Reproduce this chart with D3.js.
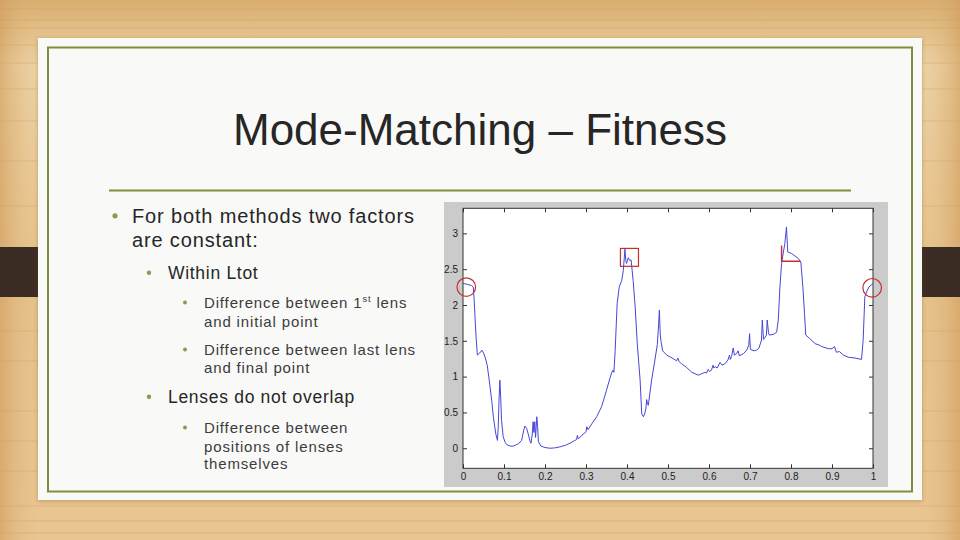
<!DOCTYPE html>
<html><head><meta charset="utf-8">
<script src="https://cdn.jsdelivr.net/npm/d3@7"></script>
<style>html,body{margin:0;padding:0;overflow:hidden;background:#e3bd86}</style>
</head><body>
<svg id="c" width="960" height="540"></svg>
<script>
// ---------- data ----------
const titleText = "Mode-Matching \u2013 Fitness";
const xValues = [0.000,0.010,0.021,0.025,0.027,0.030,0.032,0.035,0.041,0.046,0.050,0.054,0.059,0.064,0.070,0.074,0.080,0.084,0.086,0.088,0.090,0.092,0.094,0.098,0.103,0.107,0.115,0.123,0.130,0.135,0.143,0.148,0.151,0.155,0.159,0.164,0.166,0.169,0.171,0.173,0.175,0.177,0.180,0.182,0.184,0.190,0.200,0.212,0.224,0.237,0.249,0.261,0.273,0.277,0.279,0.281,0.290,0.300,0.302,0.305,0.314,0.326,0.338,0.350,0.359,0.363,0.366,0.368,0.371,0.374,0.376,0.381,0.387,0.391,0.395,0.397,0.399,0.403,0.407,0.410,0.415,0.420,0.425,0.432,0.436,0.440,0.443,0.446,0.448,0.450,0.452,0.460,0.468,0.474,0.477,0.479,0.481,0.483,0.487,0.497,0.513,0.521,0.524,0.527,0.533,0.545,0.558,0.566,0.574,0.582,0.590,0.594,0.598,0.601,0.606,0.610,0.612,0.615,0.620,0.627,0.632,0.639,0.646,0.650,0.652,0.655,0.659,0.662,0.667,0.671,0.674,0.684,0.692,0.697,0.699,0.701,0.710,0.716,0.722,0.728,0.730,0.733,0.737,0.740,0.742,0.745,0.747,0.757,0.765,0.769,0.773,0.777,0.781,0.785,0.789,0.792,0.801,0.818,0.824,0.829,0.833,0.836,0.846,0.859,0.869,0.875,0.891,0.900,0.906,0.911,0.918,0.928,0.940,0.956,0.972,0.976,0.980,0.984,0.990,1.000];
const yValues = [2.30,2.29,2.27,2.25,2.09,1.75,1.55,1.30,1.33,1.37,1.33,1.27,1.16,0.95,0.67,0.44,0.20,0.11,0.30,0.70,0.95,0.70,0.39,0.16,0.08,0.05,0.03,0.03,0.05,0.06,0.11,0.25,0.31,0.28,0.20,0.09,0.07,0.20,0.37,0.22,0.37,0.15,0.44,0.30,0.09,0.03,0.01,0.00,0.005,0.02,0.04,0.07,0.11,0.12,0.18,0.13,0.18,0.23,0.30,0.26,0.34,0.44,0.58,0.81,0.99,1.06,1.09,1.06,1.35,1.75,2.02,2.25,2.34,2.48,2.78,2.62,2.58,2.66,2.62,2.63,2.34,1.97,1.46,0.95,0.48,0.44,0.48,0.55,0.68,0.62,0.60,0.95,1.23,1.45,1.72,1.93,1.60,1.49,1.36,1.30,1.25,1.22,1.26,1.21,1.18,1.13,1.06,1.04,1.02,1.04,1.06,1.05,1.10,1.07,1.09,1.16,1.12,1.14,1.12,1.20,1.16,1.18,1.23,1.30,1.24,1.28,1.40,1.30,1.32,1.36,1.29,1.32,1.37,1.44,1.60,1.38,1.36,1.37,1.40,1.51,1.79,1.52,1.55,1.58,1.79,1.62,1.58,1.59,1.62,1.79,2.25,2.58,2.72,2.86,3.09,2.74,2.72,2.65,2.60,2.25,1.88,1.58,1.53,1.46,1.44,1.42,1.39,1.39,1.42,1.34,1.35,1.30,1.27,1.26,1.24,1.51,2.11,2.18,2.25,2.30];
const xTicks = [0,0.1,0.2,0.3,0.4,0.5,0.6,0.7,0.8,0.9,1];
const xTickLabels = ["0","0.1","0.2","0.3","0.4","0.5","0.6","0.7","0.8","0.9","1"];
const yTicks = [0,0.5,1,1.5,2,2.5,3];
const yTickLabels = ["0","0.5","1","1.5","2","2.5","3"];
// red annotation marks (data units)
const circleMarks = [{x:0.008,y:2.25},{x:0.998,y:2.24}];
const boxMarks = [{x0:0.384,x1:0.428,y0:2.54,y1:2.79}];
const cornerMarks = [{x:0.777,yTop:2.83,yBot:2.61,x1:0.822}];
// bullet text
const bullets = [
  {lvl:1, lines:["For both methods two factors","are constant:"]},
  {lvl:2, lines:["Within Ltot"]},
  {lvl:3, lines:["Difference between 1|st| lens","and initial point"]},
  {lvl:3, lines:["Difference between last lens","and final point"]},
  {lvl:2, lines:["Lenses do not overlap"]},
  {lvl:3, lines:["Difference between","positions of lenses","themselves"]}
];
const bulletBaselines = [[223,247],[279],[308,327],[355,373],[403],[433,452,469]];

// ---------- drawing ----------
const svg = d3.select("#c");
const defs = svg.append("defs");
const g1 = defs.append("linearGradient").attr("id","wood").attr("x1",0).attr("y1",0).attr("x2",0).attr("y2",1);
g1.append("stop").attr("offset","0%").attr("stop-color","#d9ad6e");
g1.append("stop").attr("offset","12%").attr("stop-color","#ecd3a6");
g1.append("stop").attr("offset","50%").attr("stop-color","#e6c28c");
g1.append("stop").attr("offset","100%").attr("stop-color","#e8c592");
svg.append("rect").attr("width",960).attr("height",540).attr("fill","url(#wood)");
const g2 = defs.append("linearGradient").attr("id","woodL").attr("x1",0).attr("y1",0).attr("x2",1).attr("y2",0);
g2.append("stop").attr("offset","0%").attr("stop-color","#cf9a58").attr("stop-opacity",0.6);
g2.append("stop").attr("offset","100%").attr("stop-color","#e6c28c").attr("stop-opacity",0);
svg.append("rect").attr("x",0).attr("y",0).attr("width",40).attr("height",540).attr("fill","url(#woodL)");
svg.append("rect").attr("x",920).attr("y",0).attr("width",40).attr("height",540).attr("fill","url(#woodL)").attr("transform","translate(1880,0) scale(-1,1)");
// grain stripes
const stripeYs = [8,19,27,44,62,88,120,160,205,330,360,410,440,470,505,520,532];
svg.append("g").selectAll("rect").data(stripeYs).join("rect")
  .attr("x",0).attr("y",d=>d).attr("width",960).attr("height",2)
  .attr("fill","#c99a5c").attr("opacity",0.18);

// tabs
svg.append("rect").attr("x",0).attr("y",247).attr("width",60).attr("height",50).attr("fill","#3a2c22");
svg.append("rect").attr("x",900).attr("y",247).attr("width",60).attr("height",50).attr("fill","#3a2c22");

// card
const sh = defs.append("filter").attr("id","sh").attr("x","-5%").attr("y","-5%").attr("width","110%").attr("height","110%");
sh.append("feDropShadow").attr("dx",0).attr("dy",1).attr("stdDeviation",2).attr("flood-color","#6b4a20").attr("flood-opacity",0.35);
svg.append("rect").attr("x",38).attr("y",38).attr("width",884).attr("height",462).attr("fill","#f9f9f8").attr("filter","url(#sh)");
svg.append("rect").attr("x",48).attr("y",47.5).attr("width",864).attr("height",444).attr("fill","none").attr("stroke","#7d8f3e").attr("stroke-width",2);

// title
svg.append("text").attr("x",480).attr("y",145).attr("text-anchor","middle")
  .attr("font-family","Liberation Sans, Arial, sans-serif").attr("font-size",44).attr("fill","#262626")
  .text(titleText);
svg.append("line").attr("x1",109).attr("x2",851).attr("y1",190.5).attr("y2",190.5).attr("stroke","#7d8f3e").attr("stroke-width",2);

// bullets
const lvlStyle = {
  1:{bx:115,tx:132,fs:20,ls:0.85,br:2.6,col:"#262626"},
  2:{bx:149,tx:168,fs:17.5,ls:0.7,br:2.2,col:"#262626"},
  3:{bx:185,tx:204,fs:15,ls:0.85,br:2.0,col:"#3c3c3c"}
};
const tg = svg.append("g").attr("font-family","Liberation Sans, Arial, sans-serif");
bullets.forEach((b,i)=>{
  const s = lvlStyle[b.lvl];
  const bl = bulletBaselines[i];
  tg.append("circle").attr("cx",s.bx).attr("cy",bl[0]-s.fs*0.36).attr("r",s.br).attr("fill","#8a9b4c");
  b.lines.forEach((ln,j)=>{
    const t = tg.append("text").attr("x",s.tx).attr("y",bl[j]).attr("font-size",s.fs).attr("fill",s.col).attr("letter-spacing",s.ls);
    const parts = ln.split("|");
    parts.forEach((p,k)=>{
      if(k===1){ t.append("tspan").attr("font-size",s.fs*0.62).attr("dy",-s.fs*0.38).text(p); }
      else if(k===2){ t.append("tspan").attr("dy",s.fs*0.38).text(p); }
      else t.append("tspan").text(p);
    });
  });
});

// chart panel
svg.append("rect").attr("x",444).attr("y",202).attr("width",444).attr("height",285).attr("fill","#cbcbcb");
const L=463,R=873,T=208.3,B=468.3;
const x = d3.scaleLinear().domain([0,1]).range([L,R]);
const y = d3.scaleLinear().domain([-0.28,3.35]).range([B,T]);
svg.append("rect").attr("x",L).attr("y",T).attr("width",R-L).attr("height",B-T).attr("fill","#ffffff");

const axFont = "Liberation Sans, Arial, sans-serif";
function styleAxis(g){
  g.select(".domain").remove();
  g.selectAll("line").attr("stroke","#333").attr("stroke-width",1);
  g.selectAll("text").attr("font-family",axFont).attr("font-size",10).attr("fill","#222");
}
svg.append("g").attr("transform",`translate(0,${B})`)
  .call(d3.axisBottom(x).tickValues(xTicks).tickFormat((d,i)=>xTickLabels[i]).tickSizeInner(-4).tickSizeOuter(0).tickPadding(5)).call(styleAxis);
svg.append("g").attr("transform",`translate(0,${T})`)
  .call(d3.axisTop(x).tickValues(xTicks).tickFormat("").tickSizeInner(-4).tickSizeOuter(0)).call(styleAxis);
svg.append("g").attr("transform",`translate(${L},0)`)
  .call(d3.axisLeft(y).tickValues(yTicks).tickFormat((d,i)=>yTickLabels[i]).tickSizeInner(-4).tickSizeOuter(0).tickPadding(5)).call(styleAxis);
svg.append("g").attr("transform",`translate(${R},0)`)
  .call(d3.axisRight(y).tickValues(yTicks).tickFormat("").tickSizeInner(-4).tickSizeOuter(0)).call(styleAxis);
svg.append("rect").attr("x",L).attr("y",T).attr("width",R-L).attr("height",B-T).attr("fill","none").attr("stroke","#333").attr("stroke-width",1);

// curve
const pts = xValues.map((v,i)=>[v,yValues[i]]);
svg.append("path").datum(pts)
  .attr("d",d3.line().x(d=>x(d[0])).y(d=>y(d[1])))
  .attr("fill","none").attr("stroke","#4646d8").attr("stroke-width",1).attr("stroke-linejoin","round");

// red annotations
const red = "#c4302e";
svg.append("g").selectAll("circle").data(circleMarks).join("circle")
  .attr("cx",d=>x(d.x)).attr("cy",d=>y(d.y)).attr("r",9.3).attr("fill","none").attr("stroke",red).attr("stroke-width",1.2);
svg.append("g").selectAll("rect").data(boxMarks).join("rect")
  .attr("x",d=>x(d.x0)).attr("y",d=>y(d.y1)).attr("width",d=>x(d.x1)-x(d.x0)).attr("height",d=>y(d.y0)-y(d.y1))
  .attr("fill","none").attr("stroke",red).attr("stroke-width",1.2);
svg.append("g").selectAll("path").data(cornerMarks).join("path")
  .attr("d",d=>`M${x(d.x)},${y(d.yTop)}V${y(d.yBot)}H${x(d.x1)}`)
  .attr("fill","none").attr("stroke",red).attr("stroke-width",1.4);
</script>
</body></html>
